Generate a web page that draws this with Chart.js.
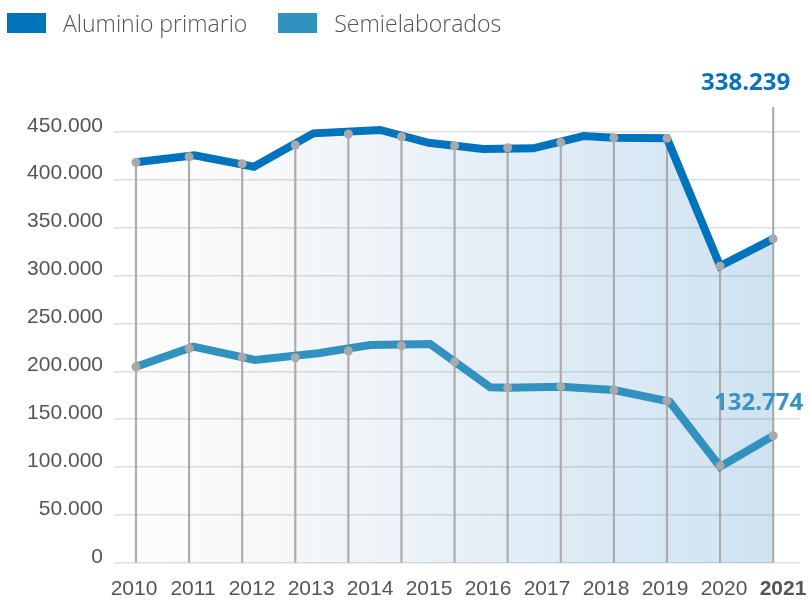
<!DOCTYPE html>
<html lang="es">
<head>
  <meta charset="UTF-8">
  <title>Aluminio primario y semielaborados</title>
  <script src="https://cdn.jsdelivr.net/npm/chart.js"></script>
  <style>
    body { margin: 0; background: #fff; font-family: "Open Sans", "Noto Sans", sans-serif; }
    .wrap { position: relative; width: 808px; height: 600px; }
    .legend { position: absolute; top: 13px; left: 7px; display: flex; align-items: center; height: 20px; }
    .legend .item { display: flex; align-items: center; margin-right: 31px; }
    .legend .box { width: 39px; height: 20px; margin-right: 17px; }
    .legend .txt { font-size: 23px; font-weight: 300; color: #555; line-height: 20px; }
  </style>
</head>
<body>
  <div class="wrap">
    <canvas id="chart" width="808" height="600"></canvas>
    <div class="legend" id="legend"></div>
  </div>

  <script>
    // etiquetas de los ejes
    const years = ['2010', '2011', '2012', '2013', '2014', '2015', '2016', '2017', '2018', '2019', '2020', '2021'];
    const yTicks = [0, 50000, 100000, 150000, 200000, 250000, 300000, 350000, 400000, 450000];

    // puntos grises (13 marcas)
    const markPos = [0, 1, 2, 3, 4, 5, 6, 7, 8, 9, 10, 11, 12];
    const alumMarks = [418100, 423900, 416600, 436100, 447600, 444800, 435400, 433300, 438900, 443800, 443100, 309900, 338239];
    const semiMarks = [204800, 224000, 214600, 214200, 221200, 226700, 210000, 182900, 184000, 180500, 169300, 101500, 132774];

    // trazado de las lineas
    const alumLineX = [0, 1.1, 2.22, 3.34, 4.6, 5.51, 6.54, 7.48, 8.43, 9, 10, 11, 12];
    const alumLineY = [418100, 425500, 413500, 448300, 451800, 438500, 432000, 432700, 445500, 443800, 443100, 309900, 338239];
    const semiLineX = [0, 1.08, 2.24, 3.43, 4.41, 5.54, 6.67, 7, 8, 9, 10.05, 11, 12];
    const semiLineY = [204800, 225700, 211800, 218800, 227500, 228500, 183300, 182900, 184000, 180500, 168300, 100500, 132774];

    const seriesNames = ['Aluminio primario', 'Semielaborados'];
    const seriesColors = ['#0073bd', '#3192c0'];
    const Y_MAX = 475800;

    function fmt(v) {
      return String(v).replace(/\B(?=(\d{3})+(?!\d))/g, '.');
    }

    // leyenda
    const legend = document.getElementById('legend');
    seriesNames.forEach((name, i) => {
      const item = document.createElement('div');
      item.className = 'item';
      item.innerHTML = '<div class="box" style="background:' + seriesColors[i] + '"></div><span class="txt">' + name + '</span>';
      legend.appendChild(item);
    });

    const toPts = (xs, ys) => xs.map((x, i) => ({ x: x, y: ys[i] }));
    const guideTop = alumMarks.map((v, i) => i === alumMarks.length - 1 ? Y_MAX : v);

    const valueLabels = {
      id: 'valueLabels',
      afterDatasetsDraw(chart) {
        const ctx = chart.ctx;
        const area = chart.chartArea;
        ctx.save();
        ctx.font = 'bold 24px "Open Sans", "Noto Sans", sans-serif';
        ctx.textAlign = 'right';
        ctx.textBaseline = 'middle';
        const top = chart.getDatasetMeta(0).data.at(-1);
        ctx.fillStyle = '#0a72b8';
        ctx.fillText(fmt(alumLineY.at(-1)), top.x + 17, area.top - 24);
        const bot = chart.getDatasetMeta(1).data.at(-1);
        ctx.fillStyle = '#3a93c2';
        ctx.fillText(fmt(semiLineY.at(-1)), bot.x + 30, bot.y - 33);
        ctx.restore();
      }
    };

    new Chart(document.getElementById('chart'), {
      type: 'line',
      data: {
        datasets: [
          {
            label: seriesNames[0],
            data: toPts(alumLineX, alumLineY),
            borderColor: seriesColors[0],
            borderWidth: 8,
            borderJoinStyle: 'miter',
            pointRadius: 0,
            tension: 0,
            fill: 'origin',
            backgroundColor: (c) => {
              const chart = c.chart;
              if (!chart.chartArea) return 'rgba(0,0,0,0)';
              const xs = chart.scales.x;
              const g = chart.ctx.createLinearGradient(xs.getPixelForValue(0), 0, xs.getPixelForValue(12), 0);
              g.addColorStop(0, 'rgba(200,180,150,0.04)');
              g.addColorStop(0.5, 'rgba(30,120,190,0.11)');
              g.addColorStop(1, 'rgba(30,120,190,0.21)');
              return g;
            },
            order: 1
          },
          {
            label: seriesNames[1],
            data: toPts(semiLineX, semiLineY),
            borderColor: seriesColors[1],
            borderWidth: 8,
            borderJoinStyle: 'miter',
            pointRadius: 0,
            tension: 0,
            fill: false,
            order: 1
          },
          {
            data: toPts(markPos, alumMarks),
            showLine: false,
            pointRadius: 4.5,
            pointBackgroundColor: '#a9a9a9',
            pointBorderWidth: 0,
            order: 0
          },
          {
            data: toPts(markPos, semiMarks),
            showLine: false,
            pointRadius: 4.5,
            pointBackgroundColor: '#a9a9a9',
            pointBorderWidth: 0,
            order: 0
          },
          {
            type: 'bar',
            data: markPos.map((x, i) => ({ x: x, y: [0, guideTop[i]] })),
            backgroundColor: '#ababab',
            barThickness: 1.5,
            order: 3
          }
        ]
      },
      options: {
        responsive: false,
        animation: false,
        layout: { padding: { top: 107, right: 8, left: 0, bottom: 0 } },
        plugins: {
          legend: { display: false },
          tooltip: { enabled: false },
          filler: { drawTime: 'beforeDatasetsDraw' }
        },
        scales: {
          x: {
            type: 'linear',
            min: -0.414,
            max: 12.505,
            offset: false,
            display: false
          },
          xl: {
            type: 'linear',
            position: 'bottom',
            min: -0.339,
            max: 11.288,
            offset: false,
            grid: { display: false, drawTicks: false },
            border: { display: false },
            afterBuildTicks: (s) => { s.ticks = years.map((_, i) => ({ value: i })); },
            afterFit: (s) => { s.height = 37; s.paddingLeft = 0; s.paddingRight = 0; },
            ticks: {
              padding: 14,
              autoSkip: false,
              maxRotation: 0,
              color: '#555',
              font: (c) => ({ size: 21, weight: (c.tick && c.tick.value === 11) ? 'bold' : 300 }),
              callback: (v) => years[v]
            }
          },
          y: {
            min: 0,
            max: Y_MAX,
            afterFit: (s) => { s.width = 114; s.paddingTop = 0; s.paddingBottom = 0; },
            afterBuildTicks: (s) => { s.ticks = yTicks.map(v => ({ value: v })); },
            grid: { color: '#dedede', lineWidth: 1.5, drawTicks: false },
            border: { display: false },
            ticks: {
              padding: 11,
              labelOffset: -6,
              color: '#555',
              font: { size: 21, weight: 300 },
              callback: (v) => fmt(v)
            }
          }
        }
      },
      plugins: [valueLabels]
    });
  </script>
</body>
</html>
